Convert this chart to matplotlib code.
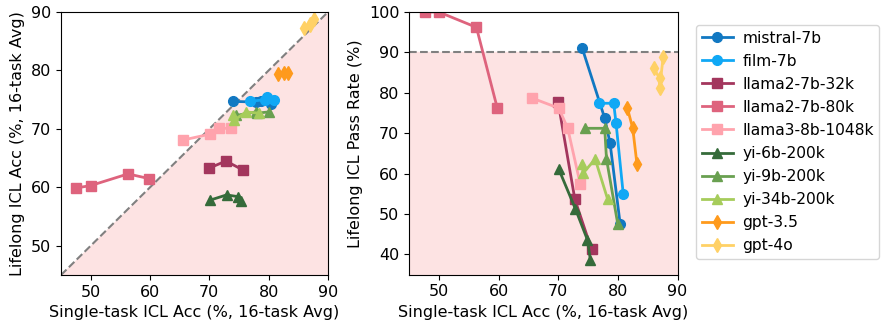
import numpy as np
import matplotlib
matplotlib.use("Agg")
import matplotlib.pyplot as plt

models = ["mistral-7b", "film-7b", "llama2-7b-32k", "llama2-7b-80k", "llama3-8b-1048k",
          "yi-6b-200k", "yi-9b-200k", "yi-34b-200k", "gpt-3.5", "gpt-4o"]
colors = ["#1178c2", "#10a8f5", "#a3365d", "#de637d", "#ffa3ad",
          "#356b3a", "#69a050", "#a6cc5b", "#ff9a1c", "#ffd166"]
markers = ["o", "o", "s", "s", "s", "^", "^", "^", "d", "d"]

# single-task ICL acc (x, shared by both panels)
single_acc = [
    [74.0, 77.8, 78.7, 80.4],
    [76.8, 79.3, 79.7, 80.9],
    [70.0, 72.8, 75.6],
    [47.6, 50.0, 56.3, 59.8],
    [65.6, 70.1, 71.6, 73.7],
    [70.1, 72.9, 74.9, 75.4],
    [74.5, 77.8, 78.1, 80.0],
    [74.0, 74.2, 76.2, 78.3],
    [81.6, 82.5, 83.2],
    [86.0, 87.0, 87.0, 87.6],
]
# lifelong ICL acc (left panel)
lifelong_acc = [
    [74.7, 74.6, 74.8, 74.3],
    [74.7, 75.0, 75.4, 74.9],
    [63.3, 64.5, 63.0],
    [59.9, 60.3, 62.3, 61.5],
    [68.1, 69.1, 70.1, 70.1],
    [57.8, 58.7, 58.4, 57.7],
    [72.3, 72.9, 72.7, 72.9],
    [72.4, 71.5, 72.9, 72.7],
    [79.4, 79.6, 79.5],
    [87.3, 88.0, 87.7, 88.8],
]
# lifelong ICL pass rate (right panel)
pass_rate = [
    [91.2, 73.7, 67.5, 47.4],
    [77.4, 77.4, 72.5, 55.0],
    [77.6, 53.6, 41.2],
    [100.0, 100.0, 96.2, 76.2],
    [78.7, 76.2, 71.2, 57.4],
    [61.1, 51.2, 43.6, 38.6],
    [71.2, 71.2, 63.6, 47.4],
    [62.4, 60.1, 63.6, 53.6],
    [76.2, 71.2, 62.4],
    [86.1, 83.6, 81.2, 88.8],
]

fs = 11.5

fig = plt.figure(figsize=(8.83, 3.22), dpi=100)
ax1 = fig.add_axes([61 / 883, 1 - 275 / 322, 267 / 883, 263 / 322])
ax2 = fig.add_axes([409 / 883, 1 - 274.5 / 322, 268.5 / 883, 262.5 / 322])

shade = "#fde3e3"

# left panel: y = x diagonal
diag = np.array([45, 90])
ax1.fill_between(diag, diag, 45, color=shade, zorder=0)
ax1.plot(diag, diag, "--", color="grey", lw=1.5, zorder=1)

# right panel: pass threshold at 90
ax2.fill_between([45, 90], [90, 90], 35, color=shade, zorder=0)
ax2.axhline(90, ls="--", color="grey", lw=1.5, zorder=1)

for name, c, m, xs, y1, y2 in zip(models, colors, markers, single_acc, lifelong_acc, pass_rate):
    ms = 7 if m != "d" else 7.5
    ax1.plot(xs, y1, marker=m, color=c, lw=2, ms=ms, label=name)
    ax2.plot(xs, y2, marker=m, color=c, lw=2, ms=ms, label=name)

ax1.set_xlim(45, 90)
ax1.set_ylim(45, 90)
ax1.set_xticks([50, 60, 70, 80, 90])
ax1.set_yticks([50, 60, 70, 80, 90])
ax1.set_xlabel("Single-task ICL Acc (%, 16-task Avg)", fontsize=fs)
ax1.set_ylabel("Lifelong ICL Acc (%, 16-task Avg)", fontsize=fs)

ax2.set_xlim(45, 90)
ax2.set_ylim(35, 100)
ax2.set_xticks([50, 60, 70, 80, 90])
ax2.set_yticks([40, 50, 60, 70, 80, 90, 100])
ax2.set_xlabel("Single-task ICL Acc (%, 16-task Avg)", fontsize=fs)
ax2.set_ylabel("Lifelong ICL Pass Rate (%)", fontsize=fs)

for ax in (ax1, ax2):
    ax.tick_params(labelsize=fs)

ax2.legend(loc="upper left", bbox_to_anchor=(1.07, 0.95), fontsize=11.2,
           handlelength=2.0, handletextpad=0.6, borderpad=0.35,
           borderaxespad=0, labelspacing=0.52)

fig.savefig("out.png", dpi=100)
